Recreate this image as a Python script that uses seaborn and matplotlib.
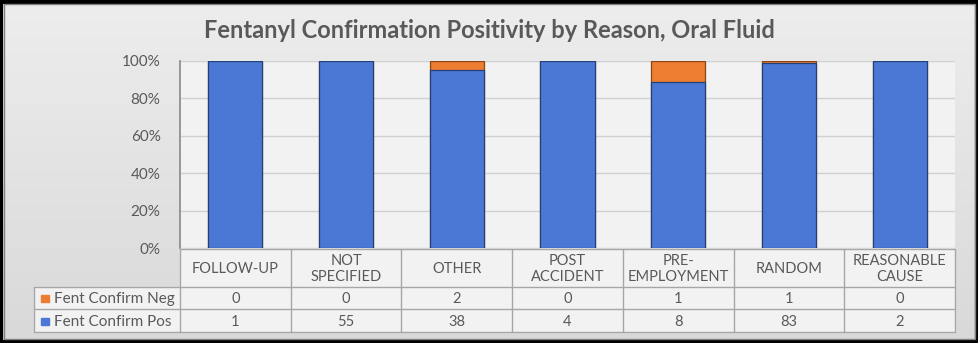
import numpy as np
import pandas as pd
import matplotlib
matplotlib.use("Agg")
import matplotlib.pyplot as plt
import seaborn as sns

reasons = ["FOLLOW-UP", "NOT\nSPECIFIED", "OTHER", "POST\nACCIDENT", "PRE-\nEMPLOYMENT", "RANDOM", "REASONABLE\nCAUSE"]
neg = [0, 0, 2, 0, 1, 1, 0]
pos = [1, 55, 38, 4, 8, 83, 2]
series_names = ["Fent Confirm Neg", "Fent Confirm Pos"]
title = "Fentanyl Confirmation Positivity by Reason, Oral Fluid"

sns.set_theme(style="white")
plt.rcParams["font.family"] = ["Lato", "DejaVu Sans"]

W, H = 979, 343
fig = plt.figure(figsize=(W / 100, H / 100), dpi=100)

# background gradient
bg = fig.add_axes([0, 0, 1, 1], zorder=0)
grad = np.linspace(0.93, 0.85, 256).reshape(-1, 1)
bg.imshow(np.dstack([grad, grad, grad]), aspect="auto", extent=[0, 1, 0, 1], origin="upper")
bg.set_axis_off()

L, R, T, B = 180, 955, 61, 248
ax = fig.add_axes([L / W, 1 - B / H, (R - L) / W, (B - T) / H], zorder=2)
ax.set_facecolor("#f2f2f2")

total = [n + p for n, p in zip(neg, pos)]
df = pd.DataFrame({
    "reason": reasons,
    "pos_pct": [100 * p / t for p, t in zip(pos, total)],
    "tot_pct": [100.0] * len(reasons),
})
order = reasons
sns.barplot(data=df, x="reason", y="tot_pct", order=order, color="#ed7d31", saturation=1,
            width=0.49, edgecolor="#8a4512", linewidth=0.9, ax=ax, zorder=3)
sns.barplot(data=df, x="reason", y="pos_pct", order=order, color="#4a78d4", saturation=1,
            width=0.49, edgecolor="#22407a", linewidth=0.9, ax=ax, zorder=4)

ax.set_ylim(0, 100)
ax.set_xlim(-0.5, len(reasons) - 0.5)
ax.set_yticks([0, 20, 40, 60, 80, 100])
ax.set_yticklabels([f"{v}%" for v in [0, 20, 40, 60, 80, 100]], color="#595959", fontsize=11)
ax.yaxis.grid(True, color="#d0d0d0", linewidth=1)
ax.set_axisbelow(True)
ax.set_xticks([])
ax.set_xlabel("")
ax.set_ylabel("")
ax.tick_params(axis="y", length=0, pad=14)
for s in ["top", "right", "bottom"]:
    ax.spines[s].set_visible(False)
ax.spines["left"].set_color("#8c8c8c")

ov = fig.add_axes([0, 0, 1, 1], zorder=5)
ov.set_xlim(0, W)
ov.set_ylim(H, 0)
ov.set_axis_off()
ov.patch.set_alpha(0)

ov.text(489, 30, title, ha="center", va="center", fontsize=17, fontweight="bold", color="#595959")

col_w = (R - L) / len(reasons)
xs = [L + i * col_w for i in range(len(reasons) + 1)]
y_head_top, y_head_bot, y_mid, y_bot = 249, 287, 309, 332
tab_left = 34
lc = "#a6a6a6"
fs = 10.5
ov.fill_between([L, R], y_head_top, y_head_bot, color="#f2f2f2", zorder=1)
ov.fill_between([tab_left, R], y_head_bot, y_bot, color="#f2f2f2", zorder=1)
ov.plot([L, R], [y_head_top, y_head_top], color=lc, lw=1)
for yy in [y_head_bot, y_mid, y_bot]:
    ov.plot([tab_left, R], [yy, yy], color=lc, lw=1)
for x in xs:
    ov.plot([x, x], [y_head_top, y_bot], color=lc, lw=1)
ov.plot([tab_left, tab_left], [y_head_bot, y_bot], color=lc, lw=1)

for i, r in enumerate(reasons):
    cx = (xs[i] + xs[i + 1]) / 2
    ov.text(cx, (y_head_top + y_head_bot) / 2 + 1, r, ha="center", va="center",
            fontsize=fs, color="#595959", linespacing=1.1)
    ov.text(cx, (y_head_bot + y_mid) / 2 + 1, str(neg[i]), ha="center", va="center", fontsize=fs, color="#595959")
    ov.text(cx, (y_mid + y_bot) / 2 + 1, str(pos[i]), ha="center", va="center", fontsize=fs, color="#595959")

for (yy0, yy1), name, c in [((y_head_bot, y_mid), series_names[0], "#ed7d31"),
                           ((y_mid, y_bot), series_names[1], "#4a78d4")]:
    cy = (yy0 + yy1) / 2 + 1
    ov.add_patch(plt.Rectangle((41, cy - 4), 8, 7, color=c))
    ov.text(54, cy, name, ha="left", va="center", fontsize=11, color="#595959")

ov.add_patch(plt.Rectangle((1.5, 1.5), W - 3, H - 3, fill=False, edgecolor="black", lw=3))
ov.add_patch(plt.Rectangle((4, 4), W - 8, H - 8, fill=False, edgecolor="#7f7f7f", lw=1))

fig.savefig("out.png", dpi=100)
